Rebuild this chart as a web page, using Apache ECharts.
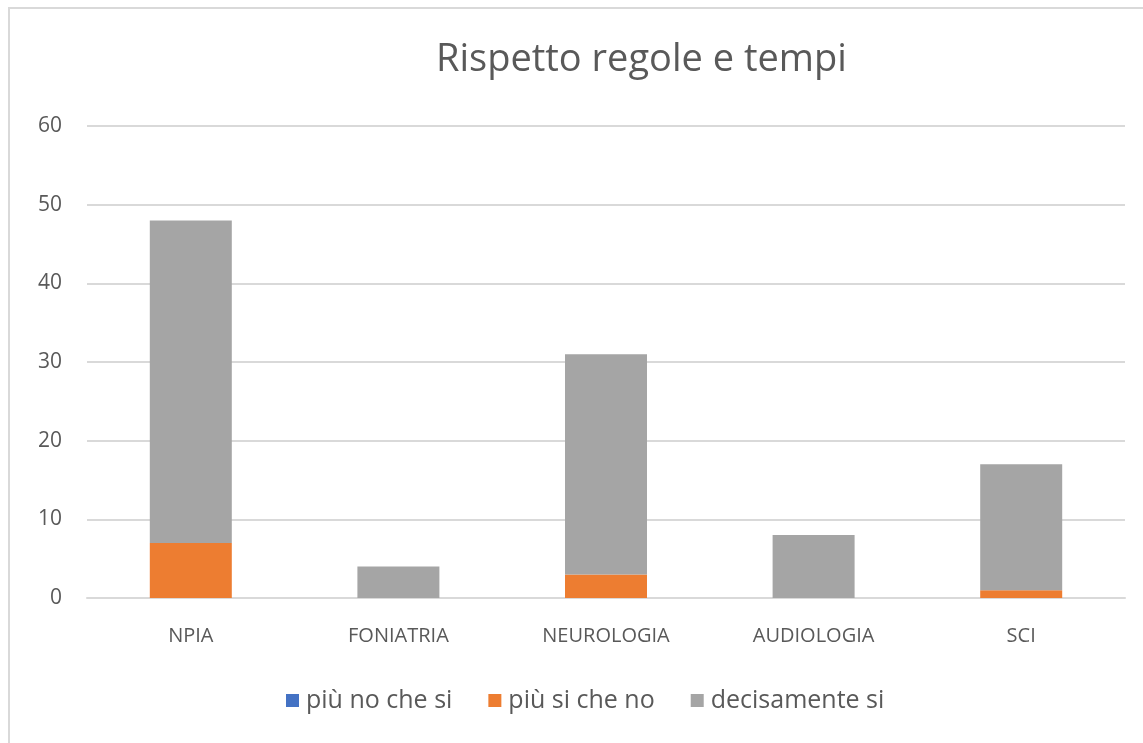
<!DOCTYPE html>
<html>
<head>
<meta charset="utf-8">
<script src="https://cdn.jsdelivr.net/npm/echarts@6/dist/echarts.min.js"></script>
<style>
  html, body { margin: 0; padding: 0; background: #fff; }
  #chart { width: 1143px; height: 743px; }
</style>
</head>
<body>
<div id="chart"></div>
<script>
// categorie e valori
var categories = ['NPIA', 'FONIATRIA', 'NEUROLOGIA', 'AUDIOLOGIA', 'SCI']
var piuNoCheSi = [0, 0, 0, 0, 0]
var piuSiCheNo = [7, 0, 3, 0, 1]
var decisamenteSi = [41, 4, 28, 8, 16]

var font = '"Open Sans", "Liberation Sans", sans-serif'
var myChart = echarts.init(document.getElementById('chart'))
var option = {
  animation: false,
  textStyle: { fontFamily: font },
  title: {
    text: 'Rispetto regole e tempi',
    left: 431,
    top: 36,
    textStyle: { fontSize: 38, fontWeight: 'normal', color: '#595959', fontFamily: font }
  },
  graphic: [{
    type: 'rect',
    shape: { x: 9, y: 8, width: 1200, height: 800 },
    style: { fill: 'none', stroke: '#d9d9d9', lineWidth: 2 },
    silent: true
  }],
  legend: {
    bottom: 25,
    left: 281,
    itemWidth: 13,
    itemHeight: 13,
    itemGap: 36,
    icon: 'rect',
    textStyle: { fontSize: 25, color: '#595959', fontFamily: font, padding: [0, 0, 0, 2] },
    data: ['più no che si', 'più si che no', 'decisamente si']
  },
  grid: { left: 87, right: 18, top: 126, bottom: 145 },
  xAxis: {
    type: 'category',
    data: categories,
    axisLine: { lineStyle: { color: '#d9d9d9', width: 2 } },
    axisTick: { show: false },
    axisLabel: { fontSize: 20, color: '#595959', margin: 28 }
  },
  yAxis: {
    type: 'value',
    min: 0,
    max: 60,
    interval: 10,
    axisLine: { show: false },
    axisTick: { show: false },
    splitLine: { lineStyle: { color: '#d9d9d9', width: 2 } },
    axisLabel: { fontSize: 21, color: '#595959', margin: 25 }
  },
  series: [
    {
      name: 'più no che si',
      type: 'bar',
      stack: 'tot',
      barWidth: 82,
      itemStyle: { color: '#4472C4' },
      data: piuNoCheSi
    },
    {
      name: 'più si che no',
      type: 'bar',
      stack: 'tot',
      barWidth: 82,
      itemStyle: { color: '#ED7D31' },
      data: piuSiCheNo
    },
    {
      name: 'decisamente si',
      type: 'bar',
      stack: 'tot',
      barWidth: 82,
      itemStyle: { color: '#A5A5A5' },
      data: decisamenteSi
    }
  ]
}
myChart.setOption(option)
</script>
</body>
</html>
